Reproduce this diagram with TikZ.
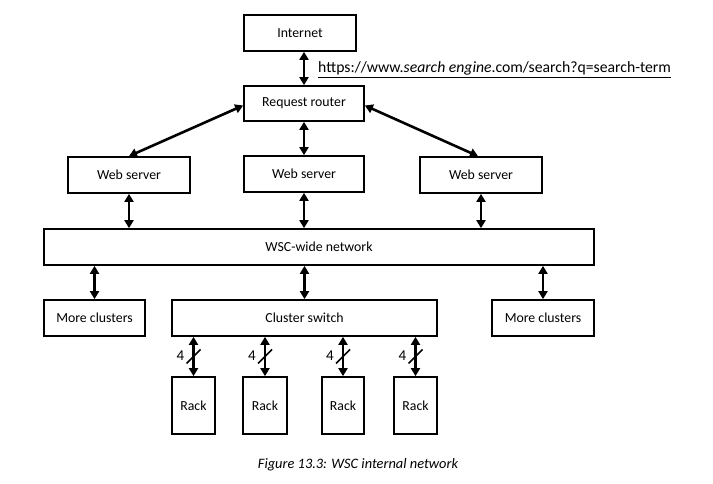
\documentclass[tikz,border=0pt]{standalone}
\usepackage{fontspec}
\setmainfont{Carlito}
\usetikzlibrary{arrows.meta,calc}
\begin{document}
\begin{tikzpicture}[x=1pt,y=-1pt,
  box/.style={draw,line width=1.7pt,inner sep=0pt,font=\fontsize{13.8}{16}\selectfont},
  link/.style={line width=2.6pt,{Triangle[length=8pt,width=9pt]}-{Triangle[length=8pt,width=9pt]}},
  slash/.style={line width=1.6pt},
  lbl/.style={font=\fontsize{15}{17}\selectfont,inner sep=0pt}]
\useasboundingbox (0,0) rectangle (713,484);
% boxes
\node[box,minimum width=112pt,minimum height=36pt] (inet) at (300,33) {Internet};
\node[box,minimum width=120pt,minimum height=35pt] (rr) at (304,103.5) {Request router};
\node[box,minimum width=122pt,minimum height=36pt] (ws1) at (129,175) {Web server};
\node[box,minimum width=120pt,minimum height=36pt] (ws2) at (304,174) {Web server};
\node[box,minimum width=122pt,minimum height=36pt] (ws3) at (481,175) {Web server};
\node[box,minimum width=550pt,minimum height=36pt] (wsc) at (319,247) {WSC-wide network};
\node[box,minimum width=101pt,minimum height=36pt] (mc1) at (94.5,318) {More clusters};
\node[box,minimum width=265pt,minimum height=36pt] (cs) at (304.5,318) {Cluster switch};
\node[box,minimum width=102pt,minimum height=36pt] (mc2) at (543,318) {More clusters};
\node[box,minimum width=43pt,minimum height=57pt] (r1) at (193.5,405.5) {Rack};
\node[box,minimum width=44pt,minimum height=57pt] (r2) at (265,405.5) {Rack};
\node[box,minimum width=42pt,minimum height=57pt] (r3) at (343,405.5) {Rack};
\node[box,minimum width=43pt,minimum height=57pt] (r4) at (415.5,405.5) {Rack};
% URL
\node[anchor=base west,inner sep=0pt,font=\fontsize{15.7}{18}\selectfont] (url) at (318,73)
  {\underline{https://www.\textit{search engine}.com/search?q=search-term}};
% caption
\node[inner sep=0pt,font=\fontsize{14.4}{17}\selectfont\itshape] (cap) at (358,465) {Figure 13.3: WSC internal network};
% connectors
\draw[link] (inet.south -| rr.north) -- (rr.north);
\draw[link] ([yshift=-2pt]rr.west) -- (ws1.north);
\draw[link] ([yshift=-2pt]rr.east) -- ([xshift=-3pt]ws3.north);
\draw[link] (rr.south) -- (ws2.north);
\draw[link] (ws1.south) -- (ws1.south |- wsc.north);
\draw[link] (ws2.south) -- (ws2.south |- wsc.north);
\draw[link] (ws3.south) -- (ws3.south |- wsc.north);
\draw[link] (mc1.north) -- (mc1.north |- wsc.south);
\draw[link] (cs.north) -- (cs.north |- wsc.south);
\draw[link] (mc2.north) -- (mc2.north |- wsc.south);
\foreach \r/\n in {r1/a,r2/b,r3/c,r4/d}{
  \draw[link] (\r.north |- cs.south) -- (\r.north);
  \coordinate (m\n) at ($(\r.north |- cs.south)!0.5!(\r.north)$);
  \draw[slash] ($(m\n)+(-7,7)$) -- ($(m\n)+(7,-7)$);
  \node[lbl,anchor=east] (l\n) at ($(m\n)+(-9,-1)$) {4};
}
\end{tikzpicture}
\end{document}
